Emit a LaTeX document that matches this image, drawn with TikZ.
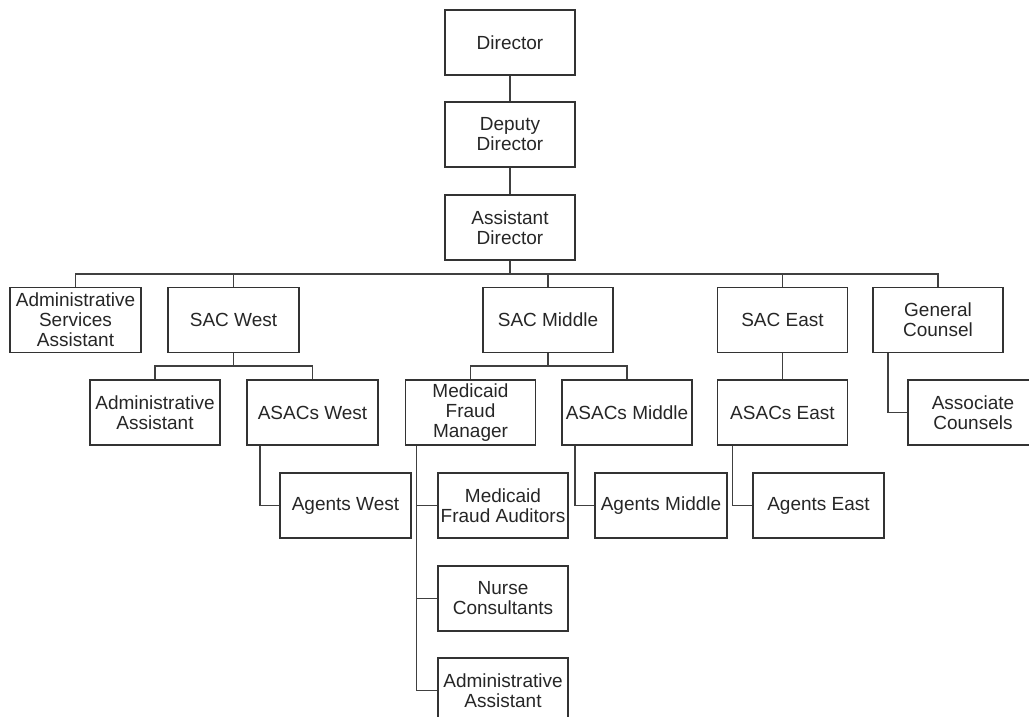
\documentclass[tikz,border=0pt]{standalone}
\usepackage{fontspec}
\setmainfont{Liberation Sans}
\usepackage{tikz}
\usetikzlibrary{positioning, calc}

\tikzset{
    orgbox/.style={draw=black!80, line width=1.8pt, minimum width=130pt, minimum height=65pt,
        align=center, inner sep=2pt, text=black!85, font=\fontsize{19}{20}\selectfont},
    orgline/.style={draw=black!75, line width=1.6pt}
}

\begin{document}
\begin{tikzpicture}[x=1pt, y=-1pt]
                \useasboundingbox (0,0) rectangle (1029,717);
                \clip (0,0) rectangle (1029,717);

                \node[orgbox] (dir) at (510,42.5) {Director};
                \node[orgbox] (dep) at (510,134.5) {Deputy\\Director};
                \node[orgbox] (asd) at (510,227.5) {Assistant\\Director};

                \node[orgbox, minimum width=131pt] (asa) at (75.5,320) {Administrative\\Services\\Assistant};
                \node[orgbox, minimum width=131pt] (sacw) at (233.5,320) {SAC West};
                \node[orgbox] (sacm) at (548,320) {SAC Middle};
                \node[orgbox] (sace) at (782.5,320) {SAC East};
                \node[orgbox] (gc) at (938,320) {General\\Counsel};

                \node[orgbox] (aaw) at (155,412.5) {Administrative\\Assistant};
                \node[orgbox, minimum width=131pt] (asw) at (312.5,412.5) {ASACs West};
                \node[orgbox] (mfm) at (470.5,412.5) {Medicaid\\Fraud\\Manager};
                \node[orgbox] (asm) at (627,412.5) {ASACs Middle};
                \node[orgbox] (ase) at (782.5,412.5) {ASACs East};
                \node[orgbox] (assoc) at (973,412.5) {Associate\\Counsels};

                \node[orgbox, minimum width=131pt] (agw) at (345.5,505.5) {Agents West};
                \node[orgbox] (mfa) at (503,505.5) {Medicaid\\Fraud Auditors};
                \node[orgbox, minimum width=132pt] (agm) at (661,505.5) {Agents Middle};
                \node[orgbox, minimum width=131pt] (age) at (818.5,505.5) {Agents East};
                \node[orgbox] (nur) at (503,598.5) {Nurse\\Consultants};
                \node[orgbox] (aam) at (503,690.5) {Administrative\\Assistant};

                \coordinate (bus) at (510,274);
                \coordinate (busw) at (0,366);

                \draw[orgline] (dir) -- (dep);
                \draw[orgline] (dep) -- (asd);
                \draw[orgline] (asd) -- (bus);
                \draw[orgline] (asa.north) -- (asa.north |- bus) -- (gc.north |- bus) -- (gc.north);
                \draw[orgline] (sacw.north) -- (sacw.north |- bus);
                \draw[orgline] (sacm.north) -- (sacm.north |- bus);
                \draw[orgline] (sace.north) -- (sace.north |- bus);

                \draw[orgline] (sacw.south) -- (sacw.south |- busw);
                \draw[orgline] (aaw.north) -- (aaw.north |- busw) -- (asw.north |- busw) -- (asw.north);
                \draw[orgline] (sacm.south) -- (sacm.south |- busw);
                \draw[orgline] (mfm.north) -- (mfm.north |- busw) -- (asm.north |- busw) -- (asm.north);
                \draw[orgline] (sace) -- (ase);
                \draw[orgline] ($(gc.south west)+(16,0)$) |- (assoc.west);

                \draw[orgline] ($(asw.south west)+(14,0)$) |- (agw.west);
                \draw[orgline] ($(asm.south west)+(14,0)$) |- (agm.west);
                \draw[orgline] ($(ase.south west)+(16,0)$) |- (age.west);
                \draw[orgline] ($(mfm.south west)+(12,0)$) |- (aam.west);
                \draw[orgline] ($(mfm.south west)+(12,0)$) |- (mfa.west);
                \draw[orgline] ($(mfm.south west)+(12,0)$) |- (nur.west);
            \end{tikzpicture}
\end{document}
